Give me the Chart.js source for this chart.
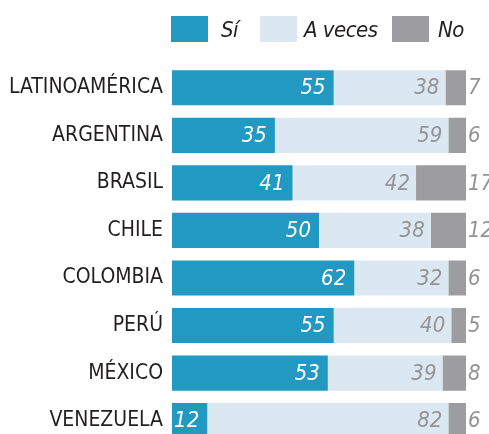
<!DOCTYPE html>
<html>
<head>
<meta charset="utf-8">
<script src="https://cdn.jsdelivr.net/npm/chart.js@4"></script>
<style>
  body { margin: 0; width: 489px; height: 434px; overflow: hidden; background: #fff; }
  #wrap { position: relative; width: 489px; height: 434px; }
  #chart { position: absolute; left: 0; top: 0; }
  .leg { position: absolute; top: 16px; height: 26px; display: flex; align-items: center;
         font-family: "Liberation Sans Narrow", "DejaVu Sans Condensed", sans-serif;
         font-style: italic; font-size: 22px; letter-spacing: -0.5px; color: #231f20; }
  .leg span.box { display: inline-block; width: 37px; height: 26px; }
</style>
</head>
<body>
<div id="wrap">
  <canvas id="chart" width="489" height="466"></canvas>
  <div class="leg" style="left:171px"><span class="box" style="background:#2199c0;margin-right:13px"></span>Sí</div>
  <div class="leg" style="left:260px"><span class="box" style="background:#dce8f1;margin-right:7px"></span>A veces</div>
  <div class="leg" style="left:392px"><span class="box" style="background:#9d9d9f;margin-right:9px"></span>No</div>
</div>
<script>
const countries = ['LATINOAMÉRICA', 'ARGENTINA', 'BRASIL', 'CHILE', 'COLOMBIA', 'PERÚ', 'MÉXICO', 'VENEZUELA'];
const si = [55, 35, 41, 50, 62, 55, 53, 12];
const aVeces = [38, 59, 42, 38, 32, 40, 39, 82];
const no = [7, 6, 17, 12, 6, 5, 8, 6];

const FONT = '"Liberation Sans Narrow", "DejaVu Sans Condensed", sans-serif';

// draws the numbers on/after each segment
const valueLabels = {
  id: 'valueLabels',
  afterDatasetsDraw(chart) {
    const ctx = chart.ctx;
    ctx.save();
    ctx.font = 'italic 22px ' + FONT;
    ctx.textBaseline = 'middle';
    chart.data.datasets.forEach((ds, i) => {
      const meta = chart.getDatasetMeta(i);
      meta.data.forEach((bar, j) => {
        const v = ds.data[j];
        if (i === 0) {
          ctx.fillStyle = '#ffffff';
          ctx.textAlign = 'right';
          ctx.fillText(v, bar.x - 8, bar.y + 1);
        } else if (i === 1) {
          ctx.fillStyle = '#949496';
          ctx.textAlign = 'right';
          ctx.fillText(v, bar.x - 6, bar.y + 1);
        } else {
          ctx.fillStyle = '#949496';
          ctx.textAlign = 'left';
          ctx.fillText(v, bar.x + 2, bar.y + 1);
        }
      });
    });
    ctx.restore();
  }
};

new Chart(document.getElementById('chart'), {
  type: 'bar',
  data: {
    labels: countries,
    datasets: [
      { label: 'Sí', data: si, backgroundColor: '#2199c0' },
      { label: 'A veces', data: aVeces, backgroundColor: '#dce8f1' },
      { label: 'No', data: no, backgroundColor: '#9d9d9f' },
    ],
  },
  options: {
    indexAxis: 'y',
    responsive: false,
    animation: false,
    layout: { padding: { top: 64, right: 23, bottom: 0, left: 0 } },
    datasets: { bar: { barPercentage: 0.74, categoryPercentage: 1 } },
    plugins: { legend: { display: false }, tooltip: { enabled: false } },
    scales: {
      x: { stacked: true, min: 0, max: 100, display: false },
      y: {
        stacked: true,
        grid: { display: false, drawTicks: false },
        border: { display: false },
        ticks: { padding: 9, color: '#231f20', font: { family: FONT, size: 21 } },
        afterFit(scale) { scale.width = 172; },
      },
    },
  },
  plugins: [valueLabels],
});
</script>
</body>
</html>
